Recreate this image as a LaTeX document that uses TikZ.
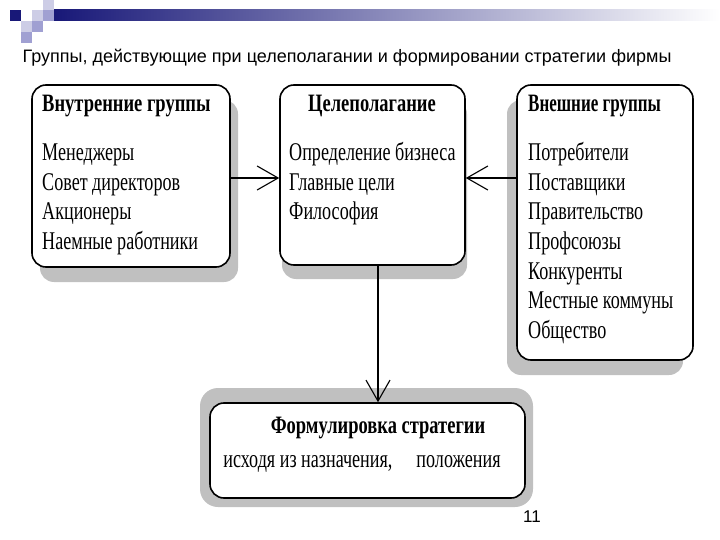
\documentclass[tikz,border=0pt]{standalone}
\usepackage{fontspec}
\setmainfont{Liberation Serif}
\newfontfamily\cond[FakeStretch=0.71]{Liberation Serif}
\newfontfamily\condb[FakeStretch=0.74]{Liberation Serif Bold}
\newfontfamily\condbn[FakeStretch=0.68]{Liberation Serif Bold}
\newfontfamily\arialf{Liberation Sans}
\usetikzlibrary{arrows.meta}
\definecolor{navy}{RGB}{24,24,120}
\definecolor{sqlight}{RGB}{205,205,230}
\definecolor{sqmid}{RGB}{160,160,210}
\definecolor{shadowgray}{RGB}{192,192,192}
\tikzset{
  box/.style={draw=black, line width=1.6pt, rounded corners=14pt, fill=white, minimum width=#1, inner sep=0pt},
  boxtitle/.style={anchor=base west, inner sep=0pt, font=\condb\fontsize{25}{25}\selectfont},
  boxitem/.style={anchor=base west, inner sep=0pt, font=\cond\fontsize{25.5}{25.5}\selectfont},
  arr/.style={line width=1.2pt, -{Straight Barb[length=21pt,width=24pt,line width=1.1pt]}}
}
\begin{document}
\begin{tikzpicture}[x=1pt,y=-1pt]
\useasboundingbox (0,0) rectangle (720,540);
\fill[white] (0,0) rectangle (720,540);
% header decoration
\fill[navy] (10,10) rectangle (21,21);
\fill[sqlight] (21,21) rectangle (32,32);
\fill[sqmid] (21,32) rectangle (32,43);
\fill[sqlight] (32,10) rectangle (43,21);
\fill[sqmid] (32,21) rectangle (43,32);
\fill[sqlight] (43,0) rectangle (54,10);
\fill[sqmid] (43,10) rectangle (54,21);
\shade[left color=navy, right color=white] (54,10) rectangle (720,21);
\node[font=\arialf\fontsize{18}{18}\selectfont, inner sep=0pt] (title) at (347,58) {Группы, действующие при целеполагании и формировании стратегии фирмы};
% shadows
\fill[shadowgray, rounded corners=14pt] (40,100) rectangle (238,282);
\fill[shadowgray, rounded corners=14pt] (282,100) rectangle (467,279);
\fill[shadowgray, rounded corners=14pt] (507,100) rectangle (683,375);
\fill[shadowgray, rounded corners=18pt] (200,388) rectangle (533,507);
% boxes
\node[box=198pt, minimum height=182pt] (L) at (131,176) {};
\node[box=185pt, minimum height=180pt] (M) at (372.5,175) {};
\node[box=176pt, minimum height=275pt] (R) at (605,222.5) {};
\node[box=315pt, minimum height=95pt] (B) at (367.5,450.5) {};
% left text
\node[boxtitle] (lt) at (42,112) {Внутренние группы};
\node[boxitem] (l1) at (42,161) {Менеджеры};
\node[boxitem] (l2) at (42,190.5) {Совет директоров};
\node[boxitem] (l3) at (42,220) {Акционеры};
\node[boxitem] (l4) at (42,249.5) {Наемные работники};
% middle text
\node[boxtitle, anchor=base] (mt) at (372,112) {Целеполагание};
\node[boxitem] (m1) at (289,161) {Определение бизнеса};
\node[boxitem] (m2) at (289,190.5) {Главные цели};
\node[boxitem] (m3) at (289,220) {Философия};
% right text
\node[boxtitle, font=\condbn\fontsize{25}{25}\selectfont] (rt) at (528,112) {Внешние группы};
\node[boxitem] (r1) at (528,161) {Потребители};
\node[boxitem] (r2) at (528,190.5) {Поставщики};
\node[boxitem] (r3) at (528,220) {Правительство};
\node[boxitem] (r4) at (528,249.5) {Профсоюзы};
\node[boxitem] (r5) at (528,279) {Конкуренты};
\node[boxitem] (r6) at (528,308.5) {Местные коммуны};
\node[boxitem] (r7) at (528,338) {Общество};
% bottom text
\node[boxtitle, anchor=base] (bt) at (378,433) {Формулировка стратегии};
\node[boxitem, anchor=base] (b1) at (362,467) {исходя из назначения,\hspace{24pt}положения};
% arrows
\coordinate (ay) at (0,178);
\coordinate (ax) at (378,0);
\draw[arr] (L.east |- ay) -- (M.west |- ay);
\draw[arr] (R.west |- ay) -- (M.east |- ay);
\draw[arr] (M.south -| ax) -- (B.north -| ax);
% page number
\node[font=\arialf\fontsize{17}{17}\selectfont, inner sep=0pt] (pg) at (532,517) {11};
\end{tikzpicture}
\end{document}
